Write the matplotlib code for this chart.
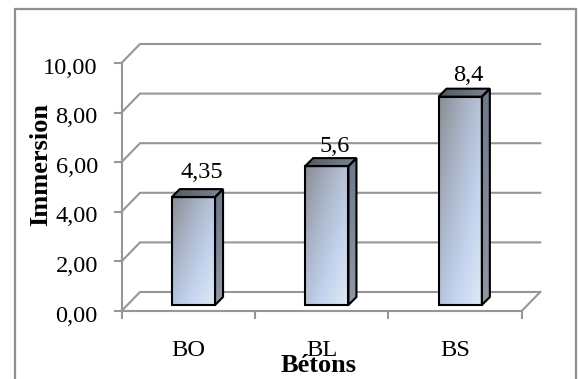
import numpy as np
import matplotlib
matplotlib.use("Agg")
import matplotlib.pyplot as plt
from matplotlib.colors import LinearSegmentedColormap
from matplotlib.patches import Polygon, Rectangle
from matplotlib.transforms import ScaledTranslation

plt.rcParams['font.family'] = ['Liberation Serif', 'DejaVu Serif']

categories = ["BO", "BL", "BS"]
values = [4.35, 5.6, 8.4]
value_labels = ["4,35", "5,6", "8,4"]
y_ticks = [0, 2, 4, 6, 8, 10]
y_labels = ["0,00", "2,00", "4,00", "6,00", "8,00", "10,00"]

W, H = 578, 379
GREY = "#969696"

fig = plt.figure(figsize=(W / 100, H / 100), dpi=100)
fig.patch.set_facecolor("white")
fig.add_artist(Rectangle((14.5 / W, -0.05), 561.5 / W, 1.05 - 9.5 / H, transform=fig.transFigure,
                         fill=False, edgecolor="#8f8f8f", linewidth=1.6))

ax = fig.add_axes([121.5 / W, 1 - 311 / H, 400.2 / W, 248 / H])
ax.set_xlim(0, 3)
ax.set_ylim(0, 10)
ax.patch.set_visible(False)

# slant of the back wall, in data units
wall_dx = 18.5 / 133.4
wall_dy = 19 / 24.8
# bar depth and placement on the floor
depth_dx = 8 / 133.4
depth_dy = 8 / 24.8
bar_w = 43.3 / 133.4
bar_shift = 5.2 / 133.4
floor_dy = 6 / 24.8

for t in y_ticks:
    ax.plot([0, wall_dx, 3 + wall_dx], [t, t + wall_dy, t + wall_dy], color=GREY, lw=1.5,
            clip_on=False, zorder=1, solid_joinstyle="miter")
ax.plot([3, 3 + wall_dx], [0, wall_dy], color=GREY, lw=1.5, clip_on=False, zorder=1)

for s in ["top", "right"]:
    ax.spines[s].set_visible(False)
for s in ["left", "bottom"]:
    ax.spines[s].set_color(GREY)
    ax.spines[s].set_linewidth(1.5)

ax.set_yticks(y_ticks)
ax.set_yticklabels(y_labels, fontsize=17.6, color="black")
ax.tick_params(axis="y", length=6, width=1.5, color=GREY, pad=11)
# drop the value labels slightly below their ticks
label_drop = ScaledTranslation(0, -2.5 / 100, fig.dpi_scale_trans)
for lab in ax.get_yticklabels():
    lab.set_transform(lab.get_transform() + label_drop)
ax.set_xticks([0, 1, 2, 3])
ax.set_xticklabels([])
ax.tick_params(axis="x", which="major", length=6, width=1.5, color=GREY)
ax.set_xticks([0.5, 1.5, 2.5], minor=True)
ax.set_xticklabels(categories, minor=True, fontsize=17.6)
ax.tick_params(axis="x", which="minor", length=0, pad=21)

front_cmap = LinearSegmentedColormap.from_list("front", ["#8b8e94", "#aab4c6", "#c2d3ee", "#e2e9f6"])
top_cmap = LinearSegmentedColormap.from_list("top", ["#555a60", "#7c8698"])
side_cmap = LinearSegmentedColormap.from_list("side", ["#6d788d", "#8e98a7"])

yy, xx = np.mgrid[0:1:60j, 0:1:60j]
diag = (xx + (1 - yy)) / 2


def shaded_face(points, cmap, grad):
    # gradient image clipped to one face of a bar
    pts = np.array(points)
    poly = Polygon(pts, closed=True, facecolor="none", edgecolor="black", lw=1.5,
                   zorder=4, joinstyle="miter", clip_on=False)
    ax.add_patch(poly)
    im = ax.imshow(grad, cmap=cmap, origin="lower", aspect="auto", zorder=3, vmin=0, vmax=1,
                   extent=(pts[:, 0].min(), pts[:, 0].max(), pts[:, 1].min(), pts[:, 1].max()))
    im.set_clip_path(poly)


label_nudge = [11, 6, 8]
for i, v in enumerate(values):
    x0 = i + 0.5 + bar_shift - bar_w / 2
    x1 = x0 + bar_w
    y0 = floor_dy
    y1 = v + floor_dy
    shaded_face([(x0, y0), (x1, y0), (x1, y1), (x0, y1)], front_cmap, diag)
    shaded_face([(x1, y0), (x1 + depth_dx, y0 + depth_dy), (x1 + depth_dx, y1 + depth_dy), (x1, y1)],
                side_cmap, yy[::-1])
    shaded_face([(x0, y1), (x1, y1), (x1 + depth_dx, y1 + depth_dy), (x0 + depth_dx, y1 + depth_dy)],
                top_cmap, xx)
    ax.annotate(value_labels[i], xy=((x0 + x1) / 2 + depth_dx, y1 + depth_dy),
                xytext=(0, label_nudge[i] * 0.72), textcoords="offset points",
                ha="center", va="baseline", fontsize=17.6, zorder=5, annotation_clip=False)

ax.set_xlim(0, 3)
ax.set_ylim(0, 10)

fig.text(319 / W, 1 - 371.7 / H, "Bétons", fontsize=19, fontweight="bold", ha="center", va="baseline", zorder=6)
fig.text(41 / W, 1 - 164.5 / H, "Immersion", fontsize=19, fontweight="bold", rotation=90, ha="center", va="center")

fig.savefig("out.png", dpi=100)
